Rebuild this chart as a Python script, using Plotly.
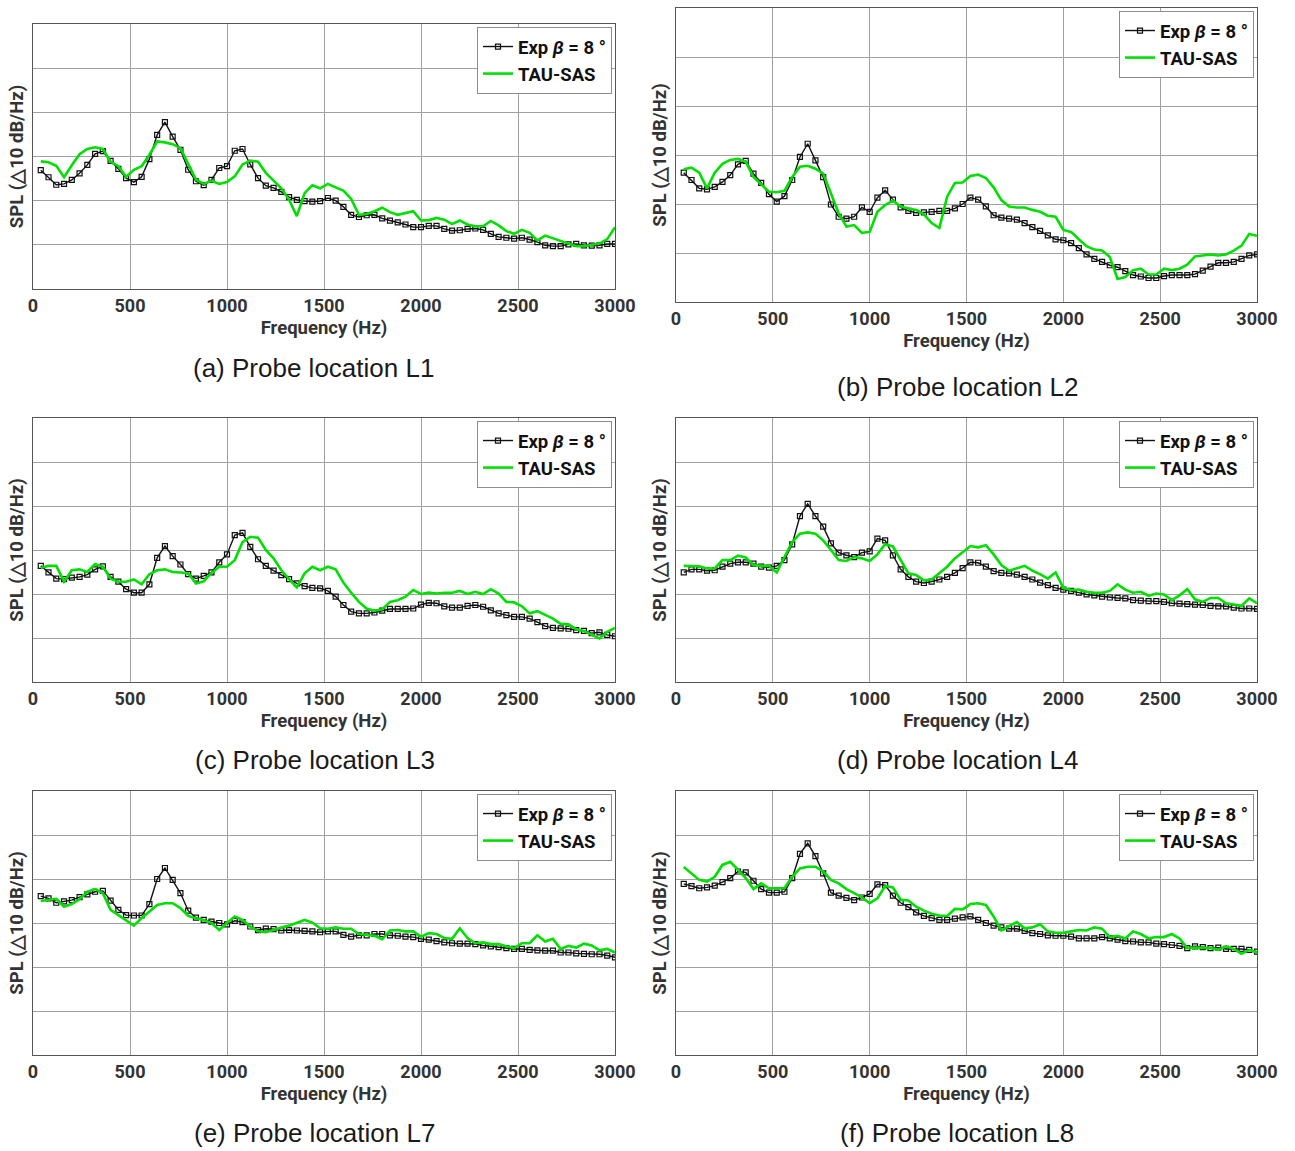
import plotly.graph_objects as go

# ---------------- data (SPL, relative dB; grid spacing = 10 dB) ----------------
freq = list(range(40, 3001, 40))  # Hz, sampling of both curves
x_ticks = [0, 500, 1000, 1500, 2000, 2500, 3000]

exp_L1 = [26.9, 25.3, 23.6, 23.8, 24.7, 26.2, 28.1, 30.6, 31.2, 29.0, 27.2, 25.1, 24.2, 25.4, 29.4,
          34.9, 37.8, 34.5, 31.5, 27.0, 24.4, 23.5, 24.7, 27.4, 27.8, 31.3, 31.7, 28.2, 25.1, 23.4,
          22.9, 22.0, 20.8, 20.2, 19.9, 19.8, 19.9, 20.6, 20.0, 18.6, 16.8, 16.3, 16.7, 16.8, 16.0,
          15.5, 15.1, 14.6, 14.0, 14.0, 14.3, 14.3, 13.6, 13.2, 13.3, 13.6, 13.7, 13.4, 12.5, 11.8,
          11.6, 11.4, 11.6, 11.2, 10.6, 9.9, 9.7, 9.7, 10.1, 10.2, 9.9, 9.8, 9.9, 10.2, 10.2]
sas_L1 = [28.9, 28.7, 27.9, 25.3, 28.0, 30.5, 31.7, 32.1, 31.7, 28.8, 27.8, 25.4, 27.0, 27.8, 30.4,
          33.4, 33.2, 32.8, 31.9, 28.5, 24.8, 23.8, 24.5, 23.8, 24.2, 25.5, 28.2, 29.1, 28.8, 26.3,
          24.6, 22.8, 20.2, 16.5, 21.7, 23.5, 22.8, 23.8, 23.0, 22.3, 20.4, 16.8, 17.0, 17.6, 18.4,
          17.4, 16.8, 17.2, 17.6, 15.5, 15.6, 16.1, 15.7, 14.7, 15.5, 14.6, 14.2, 14.2, 15.4, 14.4,
          13.1, 12.5, 13.4, 12.7, 11.0, 12.1, 11.5, 10.8, 10.2, 9.7, 9.7, 10.0, 10.3, 11.3, 14.0]

exp_L2 = [26.4, 24.9, 23.2, 23.0, 23.5, 24.5, 25.9, 28.1, 28.8, 26.2, 24.3, 22.0, 20.5, 21.6, 24.9,
          29.6, 32.3, 28.9, 25.5, 19.9, 17.4, 17.0, 17.4, 19.3, 18.4, 21.3, 22.8, 20.9, 19.3, 18.6,
          18.2, 18.3, 18.4, 18.6, 18.6, 19.1, 20.0, 21.3, 20.9, 19.5, 17.7, 17.2, 17.0, 16.8, 16.1,
          15.3, 14.5, 13.6, 12.8, 12.6, 12.0, 11.0, 9.7, 8.8, 8.2, 7.5, 7.1, 6.3, 5.5, 5.2,
          4.9, 4.9, 5.3, 5.5, 5.5, 5.5, 5.7, 6.4, 7.2, 8.0, 8.0, 8.2, 8.8, 9.5, 9.7]
sas_L2 = [27.1, 27.4, 26.4, 23.2, 26.4, 28.2, 29.0, 29.2, 28.6, 25.5, 24.0, 22.5, 22.4, 22.7, 25.5,
          27.6, 27.8, 27.2, 26.2, 22.2, 18.1, 15.4, 15.7, 14.1, 14.3, 18.4, 19.8, 20.7, 19.5, 19.1,
          18.8, 17.9, 16.1, 15.1, 21.5, 24.3, 24.4, 25.7, 26.0, 25.3, 23.4, 20.8, 19.5, 19.3, 19.3,
          18.8, 18.4, 17.6, 17.4, 14.7, 14.3, 12.8, 11.4, 10.7, 10.5, 9.2, 4.7, 5.1, 6.5, 6.8,
          5.6, 5.6, 6.8, 6.5, 6.8, 7.6, 9.3, 9.5, 9.7, 9.5, 9.7, 10.5, 11.5, 13.9, 13.5]

exp_L3 = [26.4, 24.9, 23.5, 23.4, 23.7, 23.9, 24.4, 25.6, 26.3, 23.9, 22.8, 21.1, 20.3, 20.3, 22.2,
          28.2, 30.9, 28.6, 26.7, 24.5, 23.5, 24.1, 24.9, 27.2, 29.0, 33.4, 33.9, 30.7, 27.9, 26.4,
          25.3, 24.3, 23.4, 22.4, 21.8, 21.4, 21.3, 20.7, 19.4, 17.5, 16.0, 15.6, 15.6, 15.8, 16.2,
          16.6, 16.6, 16.6, 16.7, 17.6, 18.0, 17.9, 17.2, 16.9, 16.9, 17.3, 17.5, 17.1, 16.3, 15.6,
          15.2, 14.8, 14.8, 14.4, 13.6, 12.7, 12.3, 12.2, 12.1, 11.8, 11.6, 11.1, 11.3, 10.7, 10.4]
sas_L3 = [25.9, 26.4, 26.4, 22.8, 25.4, 25.6, 25.0, 26.8, 26.2, 23.5, 22.8, 22.8, 23.3, 22.2, 24.5,
          25.4, 25.6, 25.0, 24.9, 24.7, 22.4, 22.9, 24.8, 26.2, 26.2, 27.7, 31.8, 33.0, 32.8, 30.0,
          28.1, 25.4, 23.4, 21.5, 24.7, 26.2, 25.4, 26.2, 25.6, 22.6, 20.3, 18.2, 16.7, 16.2, 16.5,
          18.2, 18.6, 19.4, 20.9, 20.0, 20.3, 20.1, 20.3, 20.3, 20.7, 20.0, 20.5, 20.0, 21.1, 20.1,
          18.2, 18.1, 17.2, 15.6, 16.1, 15.2, 14.4, 13.2, 13.1, 12.0, 11.6, 10.7, 9.9, 11.4, 12.3]

exp_L4 = [24.9, 25.6, 25.6, 25.3, 25.4, 26.2, 26.9, 27.2, 27.2, 26.9, 26.2, 26.0, 26.4, 27.7, 31.3,
          37.7, 40.5, 37.7, 35.3, 31.5, 29.4, 28.8, 28.4, 29.4, 29.7, 32.6, 32.2, 28.8, 25.6, 23.9,
          22.8, 22.5, 22.8, 23.3, 23.9, 24.8, 25.9, 27.2, 27.1, 26.2, 25.2, 24.8, 24.7, 24.4, 23.9,
          23.3, 22.6, 22.0, 21.4, 21.0, 20.7, 20.3, 19.9, 19.7, 19.4, 19.2, 19.1, 19.0, 18.6, 18.5,
          18.4, 18.4, 18.2, 17.9, 17.8, 17.7, 17.6, 17.5, 17.3, 17.2, 17.2, 16.9, 16.7, 16.7, 16.6]
sas_L4 = [26.4, 26.4, 26.3, 25.8, 25.8, 27.7, 27.7, 28.7, 28.3, 26.6, 26.4, 26.4, 24.9, 28.4, 31.8,
          33.7, 34.0, 33.7, 32.2, 30.0, 27.7, 27.5, 28.4, 28.1, 27.5, 29.0, 31.3, 30.8, 27.7, 24.7,
          24.3, 23.1, 23.3, 24.7, 26.2, 28.1, 29.6, 30.9, 30.6, 31.1, 29.0, 26.6, 25.3, 25.8, 26.4,
          25.3, 24.5, 23.5, 24.9, 21.4, 20.9, 21.0, 20.5, 20.3, 20.3, 20.7, 22.2, 21.0, 20.3, 20.5,
          19.6, 20.1, 19.9, 18.6, 19.7, 21.1, 18.8, 18.2, 19.1, 19.1, 17.9, 17.6, 17.3, 19.0, 17.9]

exp_L7 = [36.1, 35.6, 34.6, 34.9, 35.2, 35.9, 36.5, 37.1, 37.3, 35.1, 33.0, 31.8, 31.7, 31.7, 34.3,
          40.0, 42.5, 39.8, 36.8, 32.8, 31.2, 30.7, 30.3, 30.0, 29.7, 30.5, 30.2, 29.2, 28.4, 28.7,
          28.6, 28.3, 28.4, 28.3, 28.2, 28.1, 27.9, 28.1, 28.1, 27.3, 26.9, 27.2, 27.2, 27.5, 27.5,
          27.2, 27.1, 26.9, 26.8, 26.4, 26.2, 25.9, 25.6, 25.4, 25.3, 25.3, 25.2, 24.9, 24.7, 24.5,
          24.3, 24.1, 24.1, 23.9, 23.8, 23.7, 23.7, 23.3, 23.3, 23.1, 23.0, 22.9, 22.9, 22.6, 22.2]
sas_L7 = [35.0, 35.2, 35.5, 33.7, 34.3, 35.4, 37.1, 37.7, 36.8, 33.0, 31.8, 30.7, 29.4, 31.1, 32.6,
          34.1, 34.5, 34.5, 33.4, 31.6, 31.1, 30.7, 30.0, 28.4, 30.0, 31.5, 30.7, 29.2, 28.1, 27.9,
          28.4, 29.0, 29.4, 30.0, 30.7, 30.1, 28.8, 28.7, 29.0, 28.7, 28.7, 27.5, 27.3, 27.1, 26.3,
          28.3, 28.4, 28.1, 28.1, 26.9, 27.7, 27.5, 26.6, 26.4, 28.8, 26.6, 25.4, 25.6, 25.2, 25.2,
          24.7, 24.3, 25.4, 25.4, 27.2, 25.8, 26.4, 24.1, 24.8, 24.4, 25.3, 24.9, 23.8, 24.1, 23.3]

exp_L8 = [38.9, 38.4, 37.9, 38.1, 38.5, 39.3, 40.2, 41.7, 41.5, 39.6, 37.7, 36.9, 36.9, 37.1, 40.2,
          45.7, 48.1, 45.2, 41.3, 36.9, 36.2, 35.7, 35.2, 35.8, 36.6, 38.8, 38.6, 36.2, 34.6, 33.6,
          32.4, 31.6, 31.1, 30.7, 30.7, 31.0, 31.3, 31.5, 30.7, 30.0, 29.4, 29.0, 28.7, 28.7, 28.2,
          27.7, 27.5, 27.2, 27.1, 27.1, 26.9, 26.5, 26.5, 26.5, 26.8, 26.5, 26.2, 25.9, 25.8, 25.6,
          25.6, 25.3, 25.2, 25.0, 24.8, 24.3, 24.7, 24.5, 24.3, 24.4, 24.1, 24.1, 24.1, 23.9, 23.5]
sas_L8 = [42.7, 41.3, 39.8, 39.4, 40.5, 43.2, 43.9, 42.1, 40.2, 37.7, 39.0, 37.9, 37.9, 37.9, 40.5,
          42.4, 42.8, 42.8, 41.7, 39.8, 39.0, 37.7, 36.8, 35.8, 34.5, 35.6, 38.4, 38.1, 35.3, 35.1,
          33.7, 32.8, 32.1, 31.7, 31.6, 33.2, 33.1, 34.3, 34.5, 34.1, 31.5, 28.3, 29.3, 30.2, 28.8,
          29.0, 29.7, 28.1, 27.8, 27.8, 28.1, 28.4, 28.3, 29.0, 28.7, 26.8, 27.1, 26.5, 28.1, 27.5,
          26.5, 26.8, 26.8, 27.5, 26.5, 24.3, 24.4, 24.4, 24.3, 23.9, 24.7, 24.1, 23.0, 23.9, 23.3]

captions = ["(a) Probe location L1", "(b) Probe location L2", "(c) Probe location L3",
            "(d) Probe location L4", "(e) Probe location L7", "(f) Probe location L8"]
exp_series = [exp_L1, exp_L2, exp_L3, exp_L4, exp_L7, exp_L8]
sas_series = [sas_L1, sas_L2, sas_L3, sas_L4, sas_L7, sas_L8]
exp_name = "<b>Exp <i>β</i> = 8 °</b>"
sas_name = "<b>TAU-SAS</b>"
x_title = "Frequency (Hz)"
y_title = "SPL (\u25b310 dB/Hz)"

for s in exp_series + sas_series:
    assert len(s) == len(freq), len(s)

# ---------------- layout geometry (pixels in a 1295 x 1151 page) ----------------
W, H = 1295, 1151
# (left, right, top, bottom) of each plot area
boxes = [(33, 615, 24, 289), (676, 1257, 8, 302),
         (33, 615, 418, 682), (676, 1257, 418, 682),
         (33, 615, 791, 1055), (676, 1257, 791, 1055)]
caption_pos = [(313, 368), (957, 387), (315, 760), (957, 760), (314, 1133), (957, 1133)]

TXT = "#333333"
fig = go.Figure()
layout = dict(width=W, height=H, margin=dict(l=0, r=0, t=0, b=0, pad=0, autoexpand=False),
              autosize=False, paper_bgcolor="white", plot_bgcolor="white", annotations=[])

for i in range(6):
    n = i + 1
    sfx = "" if n == 1 else str(n)
    lg = "legend" if n == 1 else f"legend{n}"
    fig.add_trace(go.Scatter(x=freq, y=exp_series[i], mode="lines+markers", name=exp_name,
                             line=dict(color="#111111", width=1.4),
                             marker=dict(symbol="square-open", size=5, color="#111111",
                                         line=dict(width=1.2)),
                             xaxis=f"x{sfx}", yaxis=f"y{sfx}", legend=lg))
    fig.add_trace(go.Scatter(x=freq, y=sas_series[i], mode="lines", name=sas_name,
                             line=dict(color="#00e000", width=2.6),
                             xaxis=f"x{sfx}", yaxis=f"y{sfx}", legend=lg))
    l, r, t, b = boxes[i]
    layout[f"xaxis{sfx}"] = dict(
        domain=[l / W, r / W], range=[0, 3000], tickvals=x_ticks, anchor=f"y{sfx}",
        automargin=False,
        showgrid=True, gridcolor="#a0a0a0", gridwidth=1, zeroline=False,
        showline=True, linecolor="#555555", linewidth=1, mirror=True, ticks="",
        tickfont=dict(family="Roboto", size=18, color=TXT, weight="bold"),
        title=dict(text=x_title, standoff=6,
                   font=dict(family="Roboto", size=18.5, color=TXT, weight="bold")))
    layout[f"yaxis{sfx}"] = dict(
        domain=[1 - b / H, 1 - t / H], range=[0, 60], dtick=10, anchor=f"x{sfx}",
        automargin=False,
        showgrid=True, gridcolor="#a0a0a0", gridwidth=1, zeroline=False,
        showline=True, linecolor="#555555", linewidth=1, mirror=True, ticks="",
        showticklabels=False,
        title=dict(text=y_title, standoff=3,
                   font=dict(family="Roboto", size=18.5, color=TXT, weight="bold")))
    layout[lg] = dict(x=(r - 3) / W, y=1 - (t + 3) / H, xanchor="right", yanchor="top",
                      bgcolor="white", bordercolor="#8c8c8c", borderwidth=1,
                      font=dict(family="Roboto", size=18.5, color="#111111"),
                      itemwidth=30, tracegroupgap=0)
    cx, cy = caption_pos[i]
    layout["annotations"].append(dict(
        text=captions[i], x=cx / W, y=1 - cy / H, xref="paper", yref="paper",
        xanchor="center", yanchor="middle", showarrow=False,
        font=dict(family="Liberation Sans", size=26, color="#1a1a1a")))

fig.update_layout(**layout)
fig.write_html("out.html", config={"responsive": False, "displayModeBar": False},
               post_script="document.body.style.margin='0';"
                           "document.body.style.overflow='hidden';"
                           "document.documentElement.style.overflow='hidden';")
